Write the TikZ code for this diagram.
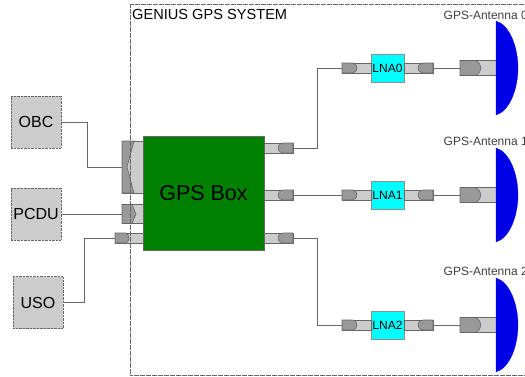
\documentclass[tikz,border=0pt]{standalone}
\usepackage{fontspec}
\setmainfont{Liberation Sans}
\definecolor{lightc}{HTML}{CCCCCC}
\definecolor{darkc}{HTML}{999999}
\definecolor{edgec}{HTML}{666666}
\definecolor{gpsgreen}{HTML}{008000}
\definecolor{dishblue}{HTML}{0000E6}
\definecolor{lnacyan}{HTML}{00FFFF}
\tikzset{
  extbox/.style={draw=edgec,dash pattern=on .8pt off .6pt,line width=.6pt,fill=lightc,inner sep=0pt,minimum width=50pt,minimum height=52pt,font=\fontsize{16}{16}\selectfont},
  gpsbox/.style={draw=edgec,line width=.7pt,fill=gpsgreen,inner sep=0pt,minimum width=121pt,minimum height=114pt,font=\fontsize{21.5}{21.5}\selectfont},
  lnabox/.style={draw=lightc!70!black,line width=.7pt,fill=lnacyan,inner sep=0pt,minimum width=33pt,minimum height=28pt,font=\fontsize{12}{12}\selectfont},
  portbody/.style={draw=edgec,line width=.6pt,fill=lightc,inner sep=0pt},
  portdark/.style={draw=edgec,line width=.6pt,fill=darkc},
  wire/.style={draw=edgec,line width=.7pt},
  frameline/.style={draw=edgec,dash pattern=on .8pt off .4pt,line width=.9pt},
  dish/.style={fill=dishblue,draw=dishblue,line width=.3pt},
  lbl/.style={inner sep=0pt,anchor=base west,font=\fontsize{12}{12}\selectfont,text=black!75}
}
\newcommand{\portout}[3]{% name, left x, y
  \node[portbody,anchor=west,minimum width=29pt,minimum height=10pt] (#1) at (#2,#3) {};
  \draw[portdark] (#2+29,#3-5) -- (#2+19,#3-5) .. controls (#2+15,#3-4) and (#2+14,#3-2) .. (#2+14,#3)
     .. controls (#2+14,#3+2) and (#2+15,#3+4) .. (#2+19,#3+5) -- (#2+29,#3+5) -- cycle;
}
\newcommand{\portin}[3]{% name, left x, y
  \node[portbody,anchor=west,minimum width=29pt,minimum height=10pt] (#1) at (#2,#3) {};
  \draw[portdark] (#2,#3-5) -- (#2+11,#3-5) .. controls (#2+14,#3-4) and (#2+15,#3-2) .. (#2+15,#3)
     .. controls (#2+15,#3+2) and (#2+14,#3+4) .. (#2+11,#3+5) -- (#2,#3+5) -- cycle;
}
\newcommand{\antenna}[3]{% index, y centre, label baseline
  \node[lnabox] (lna#1) at (387.5,#2) {LNA#1};
  \portin{lnain#1}{342}{#2}
  \portout{lnaout#1}{404}{#2}
  \node[portbody,anchor=west,minimum width=36pt,minimum height=15pt] (ant#1) at (460,#2) {};
  \draw[portdark] (460,#2-7.5) -- (475,#2-7.5) .. controls (479,#2-6) and (481,#2-3) .. (481,#2)
     .. controls (481,#2+3) and (479,#2+6) .. (475,#2+7.5) -- (460,#2+7.5) -- cycle;
  \path[dish] (496,#2-47) .. controls (510,#2-43) and (518,#2-20) .. (518,#2)
     .. controls (518,#2+20) and (510,#2+43) .. (496,#2+47) -- cycle;
  \node[lbl] (antlabel#1) at (443.5,#3) {GPS-Antenna #1};
  \draw[wire] (lnaout#1.east) -- (ant#1.west);
}
\begin{document}
\begin{tikzpicture}[x=1pt,y=-1pt]
\useasboundingbox (0,0) rectangle (525,376);
% external units
\node[extbox] (obc) at (36,122) {OBC};
\node[extbox] (pcdu) at (36,214) {PCDU};
\node[extbox] (uso) at (38,302.5) {USO};
% GPS box input ports
\node[portbody,anchor=west,minimum width=21pt,minimum height=52pt] (pobc) at (122,167) {};
\draw[portdark] (122,141) -- (134,141) .. controls (131,152) and (129,160) .. (127,167)
   .. controls (129,174) and (131,182) .. (134,193) -- (122,193) -- cycle;
\node[portbody,anchor=west,minimum width=21pt,minimum height=19pt] (ppcdu) at (122,214) {};
\draw[portdark] (122,204.5) -- (132,204.5) -- (136,214) -- (132,223.5) -- (122,223.5) -- cycle;
\node[portbody,anchor=west,minimum width=28pt,minimum height=10pt] (puso) at (115,238) {};
\draw[portdark] (115,233) -- (126,233) .. controls (128,234) and (129,236) .. (129,238)
   .. controls (129,240) and (128,242) .. (126,243) -- (115,243) -- cycle;
% wires on the left
\coordinate (obcbend) at (87,122);
\coordinate (usobend) at (84.5,238);
\draw[wire] (obc.east) -- (obcbend) |- (pobc.west);
\draw[wire] (pcdu.east) -- (ppcdu.west);
\draw[wire] (puso.west) -- (usobend) |- (uso.east);
% output ports
\portout{out0}{264}{148}
\portout{out1}{264}{195}
\portout{out2}{264}{238}
% antenna chains
\antenna{0}{68}{19}
\antenna{1}{195}{145}
\antenna{2}{325}{275}
% wires on the right
\coordinate (bend0) at (317.5,148);
\coordinate (bend2) at (317.5,238);
\draw[wire] (out0.east) -- (bend0) |- (lnain0.west);
\draw[wire] (out1.east) -- (lnain1.west);
\draw[wire] (out2.east) -- (bend2) |- (lnain2.west);
% system frame
\node[frameline,inner sep=0pt,anchor=north west,minimum width=410pt,minimum height=371pt] (frame) at (129.5,4) {};
\node[inner sep=0pt,anchor=base west,font=\fontsize{14.6}{14.6}\selectfont] (systitle) at (132,19) {GENIUS GPS SYSTEM};
% main box
\node[gpsbox] (gps) at (203.5,193) {GPS Box};
\end{tikzpicture}
\end{document}
